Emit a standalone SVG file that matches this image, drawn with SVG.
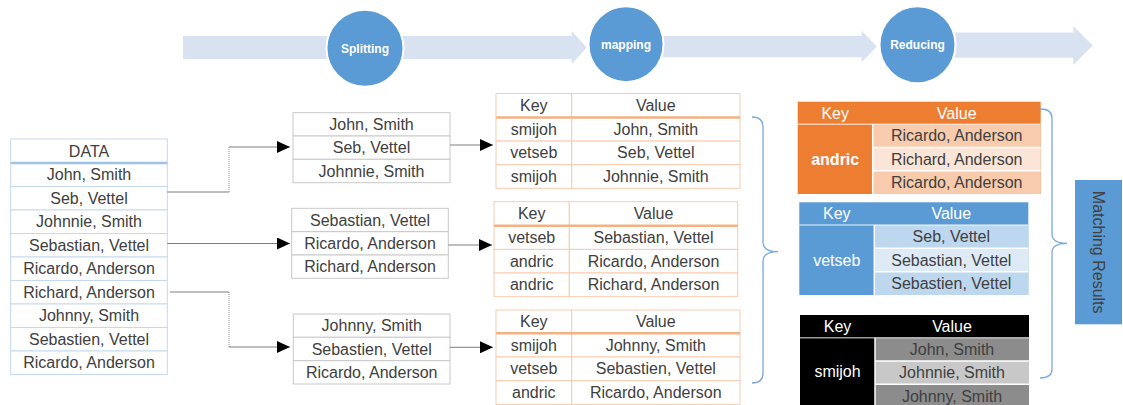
<svg xmlns="http://www.w3.org/2000/svg" width="1123" height="405" viewBox="0 0 1123 405">
  <style>
    text { font-family: "Liberation Sans", Arial, sans-serif; font-size: 16px; fill: #404040; text-anchor: middle; }
    .stage text { font-size: 12px; font-weight: bold; fill: #ffffff; }
    .band { fill: #d9e2f1; }
    .circle { fill: #5b9bd5; stroke: #ffffff; stroke-width: 2; }
    .data-cell { fill: #ffffff; stroke: #c5d9ee; stroke-width: 1; }
    .split-cell { fill: #ffffff; stroke: #c8c8c8; stroke-width: 1; }
    .map-cell { fill: #ffffff; stroke: #f8cbad; stroke-width: 1; }
    .map-rule { stroke: #f4b183; stroke-width: 2.5; }
    .data-rule { stroke: #9dc3e6; stroke-width: 2.5; }
    .sep { stroke: #ffffff; stroke-width: 1.5; }
    .light { fill: #ffffff; }
    .bold { font-weight: bold; }
    .conn { fill: none; stroke: #7f7f7f; stroke-width: 1; }
    .conn-dot { fill: none; stroke: #8c8c8c; stroke-width: 1; stroke-dasharray: 1 1; }
    .brace { fill: none; stroke: #7aa9dc; stroke-width: 1.3; }
  </style>
  <defs>
    <marker id="tri" markerUnits="userSpaceOnUse" markerWidth="13" markerHeight="12" refX="13" refY="6" orient="auto">
      <path d="M0,0 L13,6 L0,12 Z" fill="#000000"/>
    </marker>
  </defs>

  <!-- process band with stage circles -->
  <g id="band">
    <rect class="band" x="183" y="36" width="160" height="23"/>
    <polygon class="band" points="395,36 571.7,36 571.7,31 586.7,47.5 571.7,64 571.7,59 395,59"/>
    <polygon class="band" points="655,36 861.7,36 861.7,30.7 876.7,46.5 861.7,62.3 861.7,57.3 655,57.3"/>
    <polygon class="band" points="950,32.5 1073.3,32.5 1073.3,26 1092.7,45.5 1073.3,65 1073.3,57.7 950,57.7"/>
  </g>
  <g id="stage-splitting" class="stage">
    <ellipse class="circle" cx="365" cy="48.3" rx="38.5" ry="38.5"/>
    <text x="365" y="53">Splitting</text>
  </g>
  <g id="stage-mapping" class="stage">
    <ellipse class="circle" cx="626" cy="44.2" rx="37.5" ry="38"/>
    <text x="626" y="48.5">mapping</text>
  </g>
  <g id="stage-reducing" class="stage">
    <ellipse class="circle" cx="917.5" cy="44.7" rx="38" ry="38.5"/>
    <text x="917.5" y="49">Reducing</text>
  </g>

  <!-- input data -->
  <g id="data">
    <rect class="data-cell" x="10.7" y="139" width="156.6" height="24"/>
    <rect class="data-cell" x="10.7" y="163" width="156.6" height="23.5"/>
    <rect class="data-cell" x="10.7" y="186.5" width="156.6" height="23.5"/>
    <rect class="data-cell" x="10.7" y="210" width="156.6" height="23.5"/>
    <rect class="data-cell" x="10.7" y="233.5" width="156.6" height="23.5"/>
    <rect class="data-cell" x="10.7" y="257" width="156.6" height="23.5"/>
    <rect class="data-cell" x="10.7" y="280.5" width="156.6" height="23.5"/>
    <rect class="data-cell" x="10.7" y="304" width="156.6" height="23.5"/>
    <rect class="data-cell" x="10.7" y="327.5" width="156.6" height="23.5"/>
    <rect class="data-cell" x="10.7" y="351" width="156.6" height="23.5"/>
    <line class="data-rule" x1="10.7" y1="163" x2="167.3" y2="163"/>
    <text x="89" y="156.5">DATA</text>
    <text x="89" y="180.3">John, Smith</text>
    <text x="89" y="203.8">Seb, Vettel</text>
    <text x="89" y="227.3">Johnnie, Smith</text>
    <text x="89" y="250.8">Sebastian, Vettel</text>
    <text x="89" y="274.3">Ricardo, Anderson</text>
    <text x="89" y="297.8">Richard, Anderson</text>
    <text x="89" y="321.3">Johnny, Smith</text>
    <text x="89" y="344.8">Sebastien, Vettel</text>
    <text x="89" y="368.3">Ricardo, Anderson</text>
  </g>

  <!-- splits -->
  <g id="split-1">
    <rect class="split-cell" x="293" y="112.7" width="157" height="23.3"/>
    <rect class="split-cell" x="293" y="136" width="157" height="23.3"/>
    <rect class="split-cell" x="293" y="159.3" width="157" height="23.4"/>
    <text x="371.5" y="129.8">John, Smith</text>
    <text x="371.5" y="153.2">Seb, Vettel</text>
    <text x="371.5" y="176.5">Johnnie, Smith</text>
  </g>
  <g id="split-2">
    <rect class="split-cell" x="291.7" y="208.3" width="156.6" height="23.4"/>
    <rect class="split-cell" x="291.7" y="231.7" width="156.6" height="23.3"/>
    <rect class="split-cell" x="291.7" y="255" width="156.6" height="23.3"/>
    <text x="370" y="225.5">Sebastian, Vettel</text>
    <text x="370" y="248.8">Ricardo, Anderson</text>
    <text x="370" y="272.2">Richard, Anderson</text>
  </g>
  <g id="split-3">
    <rect class="split-cell" x="293.3" y="314" width="156.7" height="23.3"/>
    <rect class="split-cell" x="293.3" y="337.3" width="156.7" height="23.4"/>
    <rect class="split-cell" x="293.3" y="360.7" width="156.7" height="23.3"/>
    <text x="371.7" y="331.2">Johnny, Smith</text>
    <text x="371.7" y="354.5">Sebastien, Vettel</text>
    <text x="371.7" y="377.8">Ricardo, Anderson</text>
  </g>

  <!-- map outputs -->
  <g id="map-1">
    <rect class="map-cell" x="496" y="93.5" width="75.7" height="24"/>
    <rect class="map-cell" x="571.7" y="93.5" width="168.3" height="24"/>
    <rect class="map-cell" x="496" y="117.5" width="75.7" height="23.6"/>
    <rect class="map-cell" x="571.7" y="117.5" width="168.3" height="23.6"/>
    <rect class="map-cell" x="496" y="141.1" width="75.7" height="23.6"/>
    <rect class="map-cell" x="571.7" y="141.1" width="168.3" height="23.6"/>
    <rect class="map-cell" x="496" y="164.7" width="75.7" height="23.6"/>
    <rect class="map-cell" x="571.7" y="164.7" width="168.3" height="23.6"/>
    <line class="map-rule" x1="496" y1="117.5" x2="740" y2="117.5"/>
    <text x="533.8" y="111">Key</text>
    <text x="655.8" y="111">Value</text>
    <text x="533.8" y="134.8">smijoh</text>
    <text x="655.8" y="134.8">John, Smith</text>
    <text x="533.8" y="158.4">vetseb</text>
    <text x="655.8" y="158.4">Seb, Vettel</text>
    <text x="533.8" y="182">smijoh</text>
    <text x="655.8" y="182">Johnnie, Smith</text>
  </g>
  <g id="map-2">
    <rect class="map-cell" x="494" y="201.7" width="75.3" height="24"/>
    <rect class="map-cell" x="569.3" y="201.7" width="168.4" height="24"/>
    <rect class="map-cell" x="494" y="225.7" width="75.3" height="23.7"/>
    <rect class="map-cell" x="569.3" y="225.7" width="168.4" height="23.7"/>
    <rect class="map-cell" x="494" y="249.4" width="75.3" height="23.6"/>
    <rect class="map-cell" x="569.3" y="249.4" width="168.4" height="23.6"/>
    <rect class="map-cell" x="494" y="273" width="75.3" height="23.7"/>
    <rect class="map-cell" x="569.3" y="273" width="168.4" height="23.7"/>
    <line class="map-rule" x1="494" y1="225.7" x2="737.7" y2="225.7"/>
    <text x="531.7" y="219.2">Key</text>
    <text x="653.5" y="219.2">Value</text>
    <text x="531.7" y="243">vetseb</text>
    <text x="653.5" y="243">Sebastian, Vettel</text>
    <text x="531.7" y="266.7">andric</text>
    <text x="653.5" y="266.7">Ricardo, Anderson</text>
    <text x="531.7" y="290.3">andric</text>
    <text x="653.5" y="290.3">Richard, Anderson</text>
  </g>
  <g id="map-3">
    <rect class="map-cell" x="496" y="310" width="75.7" height="23.3"/>
    <rect class="map-cell" x="571.7" y="310" width="168.3" height="23.3"/>
    <rect class="map-cell" x="496" y="333.3" width="75.7" height="23.7"/>
    <rect class="map-cell" x="571.7" y="333.3" width="168.3" height="23.7"/>
    <rect class="map-cell" x="496" y="357" width="75.7" height="23.7"/>
    <rect class="map-cell" x="571.7" y="357" width="168.3" height="23.7"/>
    <rect class="map-cell" x="496" y="380.7" width="75.7" height="23.7"/>
    <rect class="map-cell" x="571.7" y="380.7" width="168.3" height="23.7"/>
    <line class="map-rule" x1="496" y1="333.3" x2="740" y2="333.3"/>
    <text x="533.8" y="327.2">Key</text>
    <text x="655.8" y="327.2">Value</text>
    <text x="533.8" y="350.7">smijoh</text>
    <text x="655.8" y="350.7">Johnny, Smith</text>
    <text x="533.8" y="374.3">vetseb</text>
    <text x="655.8" y="374.3">Sebastien, Vettel</text>
    <text x="533.8" y="398">andric</text>
    <text x="655.8" y="398">Ricardo, Anderson</text>
  </g>

  <!-- reduced groups -->
  <g id="reduce-andric">
    <rect x="797.7" y="101.7" width="243" height="92.3" fill="#ed7d31"/>
    <rect x="872.7" y="124.3" width="168" height="23.2" fill="#f8cbad"/>
    <rect x="872.7" y="147.5" width="168" height="23.2" fill="#fbe5d6"/>
    <rect x="872.7" y="170.7" width="168" height="23.3" fill="#f8cbad"/>
    <line class="sep" x1="797.7" y1="124.3" x2="1040.7" y2="124.3" stroke-opacity="0.6"/>
    <line class="sep" x1="872.7" y1="124.3" x2="872.7" y2="194"/>
    <line class="sep" x1="872.7" y1="147.5" x2="1040.7" y2="147.5"/>
    <line class="sep" x1="872.7" y1="170.7" x2="1040.7" y2="170.7"/>
    <text class="light" x="835.2" y="118.5">Key</text>
    <text class="light" x="956.7" y="118.5">Value</text>
    <text class="light bold" x="835.2" y="164.6">andric</text>
    <text x="956.7" y="141.4">Ricardo, Anderson</text>
    <text x="956.7" y="164.6">Richard, Anderson</text>
    <text x="956.7" y="187.8">Ricardo, Anderson</text>
  </g>
  <g id="reduce-vetseb">
    <rect x="799.3" y="202.3" width="229" height="92.7" fill="#5b9bd5"/>
    <rect x="874.3" y="225" width="154" height="23.3" fill="#bdd7ee"/>
    <rect x="874.3" y="248.3" width="154" height="23.4" fill="#deebf7"/>
    <rect x="874.3" y="271.7" width="154" height="23.3" fill="#bdd7ee"/>
    <line class="sep" x1="799.3" y1="225" x2="1028.3" y2="225" stroke-opacity="0.6"/>
    <line class="sep" x1="874.3" y1="225" x2="874.3" y2="295"/>
    <line class="sep" x1="874.3" y1="248.3" x2="1028.3" y2="248.3"/>
    <line class="sep" x1="874.3" y1="271.7" x2="1028.3" y2="271.7"/>
    <text class="light" x="836.8" y="219.2">Key</text>
    <text class="light" x="951.3" y="219.2">Value</text>
    <text class="light" x="836.8" y="265.5">vetseb</text>
    <text x="951.3" y="242.2">Seb, Vettel</text>
    <text x="951.3" y="265.5">Sebastian, Vettel</text>
    <text x="951.3" y="288.8">Sebastien, Vettel</text>
  </g>
  <g id="reduce-smijoh">
    <rect x="800" y="315" width="229" height="92.6" fill="#000000"/>
    <rect x="875" y="337.7" width="154" height="23.3" fill="#8c8c8c"/>
    <rect x="875" y="361" width="154" height="23.3" fill="#c8c8c8"/>
    <rect x="875" y="384.3" width="154" height="23.3" fill="#8c8c8c"/>
    <line class="sep" x1="800" y1="337.7" x2="1029" y2="337.7" stroke-opacity="0.6"/>
    <line class="sep" x1="875" y1="337.7" x2="875" y2="407.6"/>
    <line class="sep" x1="875" y1="361" x2="1029" y2="361"/>
    <line class="sep" x1="875" y1="384.3" x2="1029" y2="384.3"/>
    <text class="light" x="837.5" y="331.8">Key</text>
    <text class="light" x="952" y="331.8">Value</text>
    <text class="light" x="837.5" y="377">smijoh</text>
    <text x="952" y="354.8" fill="#262626">John, Smith</text>
    <text x="952" y="378.2" fill="#262626">Johnnie, Smith</text>
    <text x="952" y="401.5" fill="#262626">Johnny, Smith</text>
  </g>

  <g id="matching-results">
    <rect x="1075" y="180" width="47" height="144.3" fill="#5b9bd5"/>
    <text transform="translate(1098.5,252.2) rotate(90)" x="0" y="5.5" fill="#262626">Matching Results</text>
  </g>

  <!-- connectors -->
  <g id="connectors">
    <path class="conn" d="M167.3,192 H229"/>
    <path class="conn-dot" d="M229,192 V147"/>
    <path class="conn" d="M229,147 H290" marker-end="url(#tri)"/>
    <path class="conn" d="M167.3,243.5 H290" marker-end="url(#tri)"/>
    <path class="conn" d="M170,292 H229"/>
    <path class="conn-dot" d="M229,292 V347"/>
    <path class="conn" d="M229,347 H290" marker-end="url(#tri)"/>
    <path class="conn" d="M450,145 H493" marker-end="url(#tri)"/>
    <path class="conn" d="M448.3,245 H492" stroke="#a6a6a6" stroke-width="1.8" marker-end="url(#tri)"/>
    <path class="conn" d="M450,347.3 H493" marker-end="url(#tri)"/>
    <path class="brace" d="M752,117 Q763,117 763,127 V242 Q763,251.7 778,251.7 Q763,251.7 763,261.5 V373 Q763,383 752,383"/>
    <path class="brace" d="M1040,109 Q1052,109 1052,118 V234 Q1052,243.3 1067,243.3 Q1052,243.3 1052,252.5 V369 Q1052,378 1040,378"/>
  </g>
</svg>
